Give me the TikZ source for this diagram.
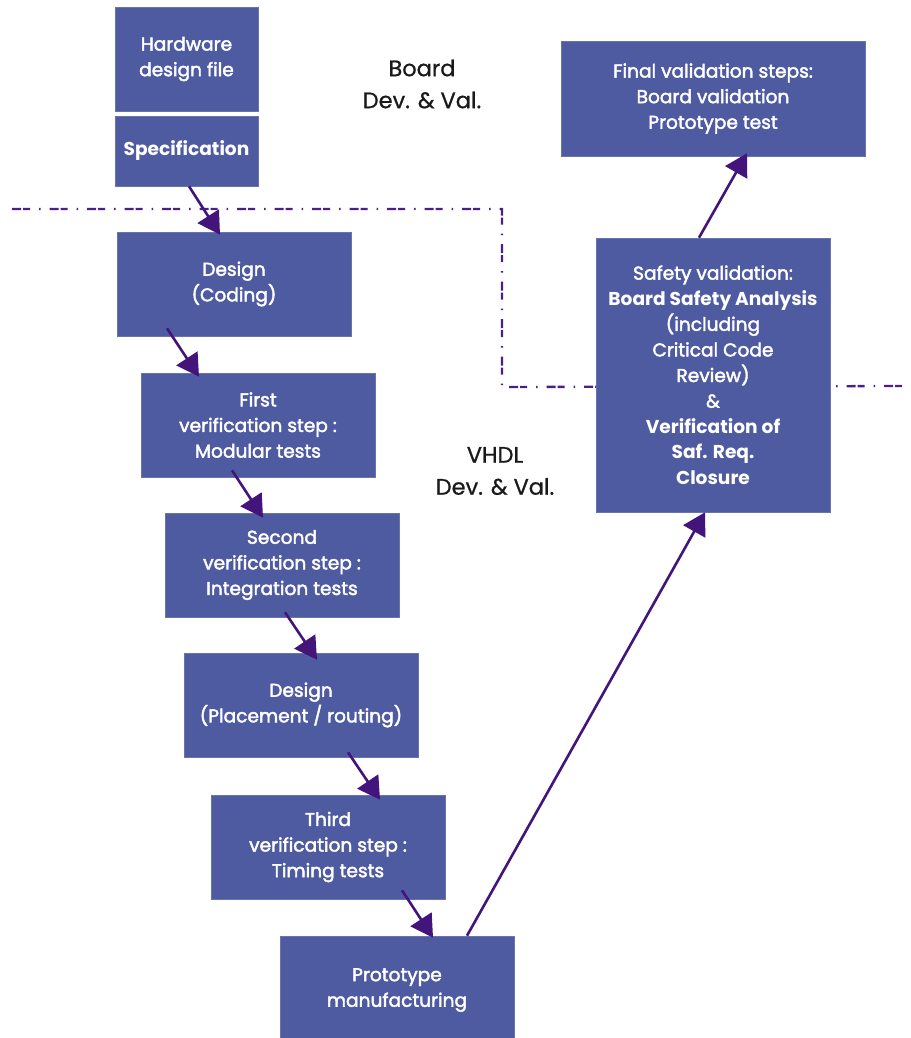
\documentclass[tikz,border=0pt]{standalone}
\usepackage{fontspec}
\setmainfont{Poppins}
\newfontfamily\medfont{Poppins}[FakeBold=2.2]
\newfontfamily\lblfont{Poppins}[FakeBold=0.8]
\newcommand\bx[1]{{\normalfont\bfseries #1}}
\usetikzlibrary{arrows.meta}
\definecolor{boxblue}{HTML}{4F5BA1}
\definecolor{arrowpurple}{HTML}{43157A}
\definecolor{dashpurple}{HTML}{4A1F8A}
\definecolor{labelgray}{HTML}{1A1A1A}
\tikzset{
  box/.style={fill=boxblue, draw=boxblue!85!white, line width=0.6pt, text=white,
    align=center, inner sep=0pt, font=\medfont\fontsize{18.6}{25.6}\selectfont},
  arr/.style={draw=arrowpurple, line width=2.6pt, -{Triangle[length=22pt,width=25pt]}},
  sep/.style={draw=dashpurple, line width=2.3pt,
    dash pattern=on 9pt off 2pt on 7pt off 9pt on 1.5pt off 9pt},
  lbl/.style={align=center, text=labelgray, inner sep=0pt, font=\lblfont\fontsize{22.5}{32}\selectfont}
}
\begin{document}
\begin{tikzpicture}[x=1pt,y=-1pt]
\useasboundingbox (0,0) rectangle (910,1038);
% separator
\coordinate (d1) at (12,209);
\coordinate (d2) at (502,209);
\coordinate (d3) at (502,387);
\coordinate (d4) at (912,386);
\draw[sep] (d1) -- (d2) -- (d3) -- (d4);
% boxes
\node[box, minimum width=143, minimum height=104] (hw) at (186.5,59) {Hardware\\design file};
\node[box, minimum width=143, minimum height=70] (spec) at (186.5,151) {\bx{Specification}};
\node[box, minimum width=234, minimum height=104] (des) at (234,284) {Design\\(Coding)};
\node[box, minimum width=234, minimum height=104] (fv) at (258,425) {First\\verification step :\\Modular tests};
\node[box, minimum width=234, minimum height=104] (sv) at (282,565) {Second\\verification step :\\Integration tests};
\node[box, minimum width=234, minimum height=104] (dp) at (301,705) {Design\\(Placement / routing)};
\node[box, minimum width=234, minimum height=104] (tv) at (328,847) {Third\\verification step :\\Timing tests};
\node[box, minimum width=234, minimum height=108] (pm) at (397,990) {Prototype\\manufacturing};
\node[box, minimum width=234, minimum height=274] (sa) at (713,375) {Safety validation:\\\bx{Board Safety Analysis}\\(including\\Critical Code\\Review)\\\&\\\bx{Verification of}\\\bx{Saf. Req.}\\\bx{Closure}};
\node[box, minimum width=304, minimum height=115] (fin) at (713,98.5) {Final validation steps:\\Board validation\\Prototype test};
% labels
\node[lbl] (board) at (422,84) {Board\\Dev. \& Val.};
\node[lbl] (vhdl) at (495,471) {VHDL\\Dev. \& Val.};
% arrows
\draw[arr] ([xshift=2.5pt]spec.south) -- ([xshift=-14pt,yshift=-3pt]des.north);
\draw[arr] ([xshift=-67pt,yshift=8pt]des.south) -- ([xshift=-59pt,yshift=-4pt]fv.north);
\draw[arr] ([xshift=-26pt,yshift=7pt]fv.south) -- ([xshift=-19pt,yshift=-5pt]sv.north);
\draw[arr] ([xshift=3pt,yshift=5pt]sv.south) -- ([xshift=16pt,yshift=-7pt]dp.north);
\draw[arr] ([xshift=47pt,yshift=5pt]dp.south) -- ([xshift=52pt,yshift=-5pt]tv.north);
\draw[arr] ([xshift=74pt,yshift=9pt]tv.south) -- ([xshift=36pt,yshift=-2pt]pm.north);
\draw[arr] ([xshift=70pt]pm.north) -- ([xshift=-8pt]sa.south);
\draw[arr] ([xshift=-14pt]sa.north) -- ([xshift=34pt,yshift=3pt]fin.south);
\end{tikzpicture}
\end{document}
